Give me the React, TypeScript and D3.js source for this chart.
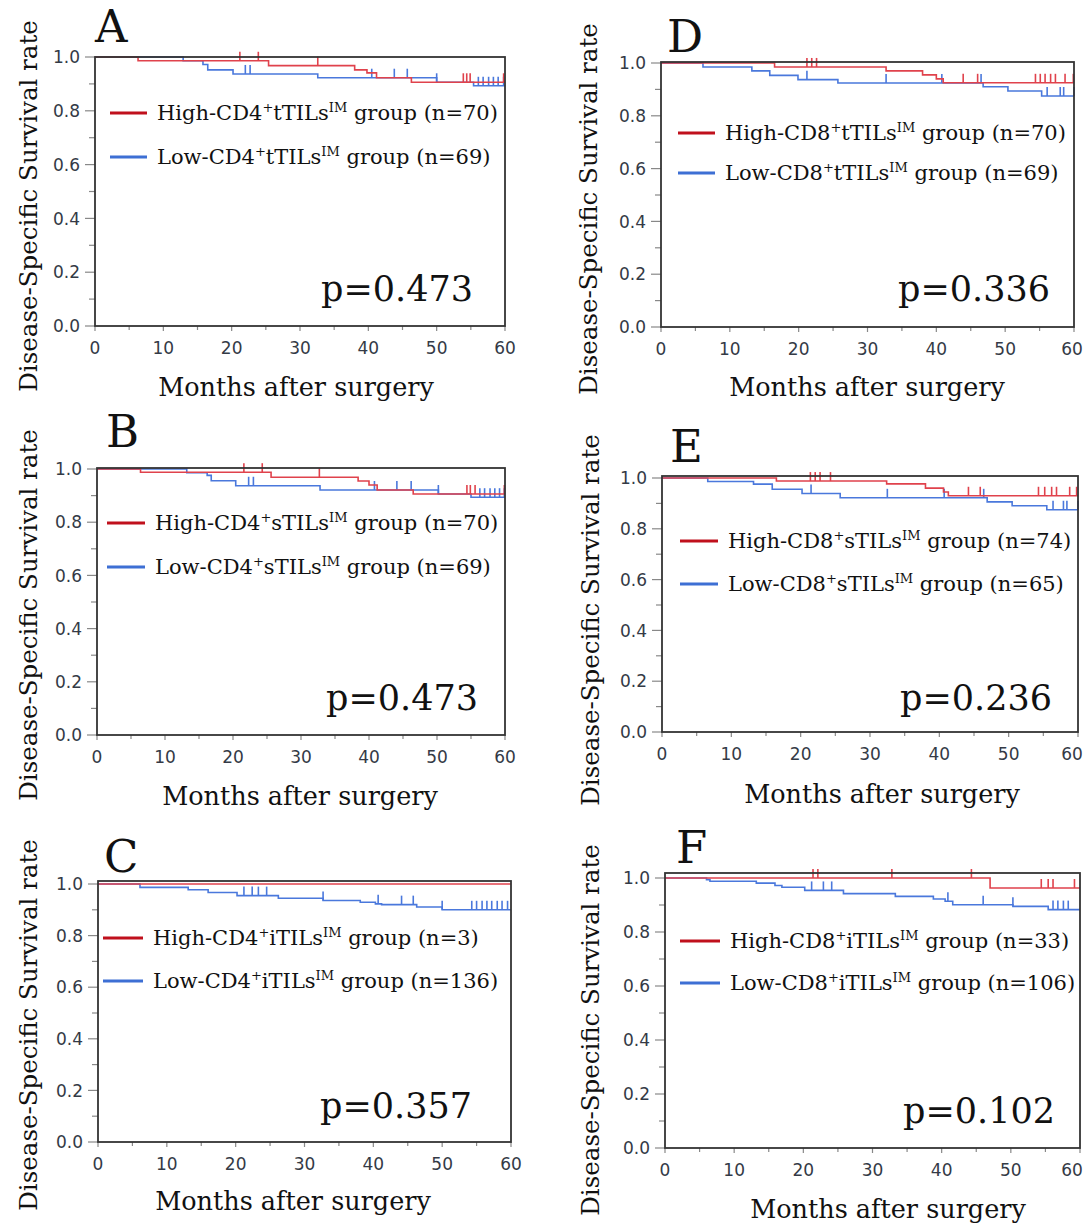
import React from 'react';
import * as d3 from 'd3';

// axis ticks
const xTicks = [0, 10, 20, 30, 40, 50, 60];
const xMinor = [5, 15, 25, 35, 45, 55];
const yTicks = [0, 0.2, 0.4, 0.6, 0.8, 1.0];
const yMinor = [0.1, 0.3, 0.5, 0.7, 0.9];

// Kaplan-Meier steps: [month, survival after the drop]
const aHigh = [[0, 1], [6.3, 0.986], [25.4, 0.968], [38, 0.952], [39.8, 0.941], [41.2, 0.923], [46.3, 0.906]];
const aLow = [[0, 1], [12.9, 0.986], [15.8, 0.972], [16.5, 0.952], [20.2, 0.937], [32.6, 0.923], [50, 0.906], [55.4, 0.893]];
const aHighCens = [21.2, 23.9, 32.6, 53.9, 54.4, 54.9, 59.8];
const aLowCens = [22.0, 22.7, 40.5, 43.8, 45.7, 50, 56.1, 56.8, 57.6, 58.3, 59.0, 59.8];

const bHigh = [[0, 1], [6.4, 0.988], [25.6, 0.969], [38.4, 0.955], [40, 0.94], [41.2, 0.921], [46.5, 0.906]];
const bLow = [[0, 1], [13.2, 0.986], [16.2, 0.976], [16.8, 0.956], [20.4, 0.937], [32.8, 0.921], [50.2, 0.906], [55, 0.894]];
const bHighCens = [21.6, 24.3, 32.7, 54.4, 54.9, 55.6, 59.9];
const bLowCens = [22.3, 23.0, 40.8, 44.1, 46.2, 50.2, 56.3, 57.0, 57.8, 58.5, 59.2, 59.9];

const cHigh = [[0, 1]];
const cLow = [[0, 1], [6.1, 0.987], [13.1, 0.978], [16, 0.967], [20.2, 0.955], [26.2, 0.945], [32.7, 0.936], [38.1, 0.929], [40.3, 0.923], [41.2, 0.92], [46.3, 0.911], [50, 0.9]];
const cHighCens: number[] = [];
const cLowCens = [21.2, 22.4, 23.3, 24.5, 32.7, 40.7, 44.1, 45.8, 50, 54.3, 55.0, 55.8, 56.5, 57.2, 58.0, 58.7, 59.5];

const dHigh = [[0, 1], [16.5, 0.985], [32.7, 0.97], [38, 0.955], [40, 0.94], [41, 0.925]];
const dLow = [[0, 1], [6.1, 0.985], [13.2, 0.97], [15.8, 0.953], [19.9, 0.937], [25.7, 0.924], [46.8, 0.91], [50.4, 0.894], [55.3, 0.875]];
const dHighCens = [21.2, 21.9, 22.6, 43.9, 46.0, 54.4, 55.1, 55.8, 56.6, 57.3, 58.7, 59.9];
const dLowCens = [21.2, 32.7, 40.8, 46.5, 56.1, 58.0, 58.5, 60];

const eHigh = [[0, 1], [16.5, 0.988], [32.4, 0.977], [38, 0.96], [40.6, 0.945], [41.3, 0.93]];
const eLow = [[0, 1], [6.6, 0.986], [13.2, 0.976], [15.9, 0.956], [20.2, 0.939], [25.7, 0.922], [46.9, 0.906], [50.5, 0.891], [55.5, 0.875]];
const eHighCens = [21.4, 22.1, 22.8, 24.3, 44.2, 45.9, 54.3, 55.2, 56.2, 56.9, 58.8, 59.8];
const eLowCens = [21.5, 32.5, 40.7, 46.4, 56.4, 57.9, 58.4, 60];

const fHigh = [[0, 1], [47, 0.963]];
const fLow = [[0, 1], [6, 0.994], [6.5, 0.988], [13.2, 0.981], [15.9, 0.972], [16.9, 0.966], [20.2, 0.954], [25.8, 0.942], [33.3, 0.932], [38.8, 0.922], [40.5, 0.914], [41.6, 0.901], [50.3, 0.895], [55.4, 0.883]];
const fHighCens = [21.4, 22.1, 32.8, 44.3, 54.4, 55.4, 56.1, 59.2];
const fLowCens = [21.2, 22.9, 24.1, 40.9, 46.0, 50.3, 56.1, 56.8, 57.6, 58.3];

const pValues = ['0.473', '0.473', '0.357', '0.336', '0.236', '0.102'];

const RED = '#e0424c';
const BLUE = '#4a78dc';
const RED_KEY = '#c0101c';
const BLUE_KEY = '#3d6fd4';

const serif = '"DejaVu Serif", serif';
const sans = '"DejaVu Sans", sans-serif';

const panels = [
  { letter: 'A', high: aHigh, low: aLow, highCens: aHighCens, lowCens: aLowCens, p: pValues[0],
    cd: 'CD4', kind: 't', nHigh: 70, nLow: 69,
    box: { l: 95, r: 505, t: 57, y1: 57, b: 326 }, letterAt: [95, 42], legendY: [113, 157], legendX: [110, 147, 157],
    pAt: [473, 301], yTitle: [28, 206], xTitle: [296, 396] },
  { letter: 'B', high: bHigh, low: bLow, highCens: bHighCens, lowCens: bLowCens, p: pValues[1],
    cd: 'CD4', kind: 's', nHigh: 70, nLow: 69,
    box: { l: 97, r: 505, t: 468, y1: 469, b: 735 }, letterAt: [106, 447], legendY: [523, 567], legendX: [107, 145, 155],
    pAt: [478, 710], yTitle: [28, 615], xTitle: [300, 805] },
  { letter: 'C', high: cHigh, low: cLow, highCens: cHighCens, lowCens: cLowCens, p: pValues[2],
    cd: 'CD4', kind: 'i', nHigh: 3, nLow: 136,
    box: { l: 98, r: 511, t: 881, y1: 884, b: 1142 }, letterAt: [104, 872], legendY: [938, 981], legendX: [103, 143, 153],
    pAt: [472, 1118], yTitle: [28, 1025], xTitle: [293, 1210] },
  { letter: 'D', high: dHigh, low: dLow, highCens: dHighCens, lowCens: dLowCens, p: pValues[3],
    cd: 'CD8', kind: 't', nHigh: 70, nLow: 69,
    box: { l: 661, r: 1074, t: 62, y1: 63, b: 327 }, letterAt: [667, 52], legendY: [133, 173], legendX: [678, 715, 725],
    pAt: [1050, 301], yTitle: [588, 209], xTitle: [867, 396] },
  { letter: 'E', high: eHigh, low: eLow, highCens: eHighCens, lowCens: eLowCens, p: pValues[4],
    cd: 'CD8', kind: 's', nHigh: 74, nLow: 65,
    box: { l: 662, r: 1078, t: 476, y1: 478, b: 732 }, letterAt: [670, 462], legendY: [541, 584], legendX: [680, 718, 728],
    pAt: [1052, 710], yTitle: [590, 620], xTitle: [882, 803] },
  { letter: 'F', high: fHigh, low: fLow, highCens: fHighCens, lowCens: fLowCens, p: pValues[5],
    cd: 'CD8', kind: 'i', nHigh: 33, nLow: 106,
    box: { l: 665, r: 1080, t: 873, y1: 878, b: 1148 }, letterAt: [676, 863], legendY: [941, 983], legendX: [680, 720, 730],
    pAt: [1055, 1123], yTitle: [590, 1030], xTitle: [888, 1218] },
];

const survAt = (steps: number[][], t: number) => {
  let s = 1;
  for (const [tt, v] of steps) if (tt <= t) s = v;
  return s;
};

const LegendLabel = ({ x, y, grp, cd, kind, n }) => (
  <text x={x} y={y} fontFamily={serif} fontSize={21} fill="#111">
    {grp}-{cd}
    <tspan fontSize={13} dy={-8}>+</tspan>
    <tspan dy={8}>{kind}TILs</tspan>
    <tspan fontSize={13} dy={-8}>IM</tspan>
    <tspan dy={8}>{` group (n=${n})`}</tspan>
  </text>
);

const Panel = ({ cfg }) => {
  const { box } = cfg;
  const x = d3.scaleLinear().domain([0, 60]).range([box.l, box.r]);
  const y = d3.scaleLinear().domain([0, 1]).range([box.b, box.y1]);
  const line = d3.line<number[]>().x(d => x(d[0])).y(d => y(d[1])).curve(d3.curveStepAfter);
  const full = (steps: number[][]) => [...steps, [60, steps[steps.length - 1][1]]];

  const curve = (steps, cens, color) => (
    <g>
      <path d={line(full(steps)) || ''} fill="none" stroke={color} strokeWidth={1.6} />
      {cens.map((t, i) => (
        <line key={i} x1={x(t)} x2={x(t)} y1={y(survAt(steps, t))} y2={y(survAt(steps, t)) - 9}
          stroke={color} strokeWidth={1.6} />
      ))}
    </g>
  );

  return (
    <g>
      <text x={cfg.letterAt[0]} y={cfg.letterAt[1]} fontFamily={serif} fontSize={45} fill="#111">{cfg.letter}</text>
      {/* ticks */}
      {yTicks.map(t => (
        <g key={'y' + t}>
          <line x1={box.l - 10} x2={box.l} y1={y(t)} y2={y(t)} stroke="#888" strokeWidth={1.2} />
          <text x={box.l - 15} y={y(t)} dy="0.36em" textAnchor="end" fontFamily={sans} fontSize={17}
            fill="#343a46">{d3.format('.1f')(t)}</text>
        </g>
      ))}
      {yMinor.map(t => (
        <line key={'ym' + t} x1={box.l - 6} x2={box.l} y1={y(t)} y2={y(t)} stroke="#888" strokeWidth={1.2} />
      ))}
      {xTicks.map(t => (
        <g key={'x' + t}>
          <line x1={x(t)} x2={x(t)} y1={box.b} y2={box.b + 5} stroke="#888" strokeWidth={1.2} />
          <text x={Math.min(x(t), 1072)} y={box.b + 22} dy="0.36em" textAnchor="middle" fontFamily={sans} fontSize={17}
            fill="#343a46">{t}</text>
        </g>
      ))}
      {xMinor.map(t => (
        <line key={'xm' + t} x1={x(t)} x2={x(t)} y1={box.b} y2={box.b + 4} stroke="#888" strokeWidth={1.2} />
      ))}
      {curve(cfg.low, cfg.lowCens, BLUE)}
      {curve(cfg.high, cfg.highCens, RED)}
      <rect x={box.l} y={box.t} width={box.r - box.l} height={box.b - box.t} fill="none" stroke="#333" strokeWidth={1.8} />
      {/* legend */}
      <line x1={cfg.legendX[0]} x2={cfg.legendX[1]} y1={cfg.legendY[0]} y2={cfg.legendY[0]} stroke={RED_KEY} strokeWidth={3} />
      <LegendLabel x={cfg.legendX[2]} y={cfg.legendY[0] + 7} grp="High" cd={cfg.cd} kind={cfg.kind} n={cfg.nHigh} />
      <line x1={cfg.legendX[0]} x2={cfg.legendX[1]} y1={cfg.legendY[1]} y2={cfg.legendY[1]} stroke={BLUE_KEY} strokeWidth={3} />
      <LegendLabel x={cfg.legendX[2]} y={cfg.legendY[1] + 7} grp="Low" cd={cfg.cd} kind={cfg.kind} n={cfg.nLow} />
      <text x={cfg.pAt[0]} y={cfg.pAt[1]} textAnchor="end" fontFamily={serif} fontSize={35} fill="#111">p={cfg.p}</text>
      <text transform={`translate(${cfg.yTitle[0]},${cfg.yTitle[1]}) rotate(-90)`} textAnchor="middle" dy="0.35em"
        fontFamily={serif} fontSize={24.5} fill="#111">Disease-Specific Survival rate</text>
      <text x={cfg.xTitle[0]} y={cfg.xTitle[1]} textAnchor="middle" fontFamily={serif} fontSize={25.5}
        fill="#111">Months after surgery</text>
    </g>
  );
};

const App = () => (
  <svg width={1086} height={1224} style={{ position: 'absolute', left: 0, top: 0, background: '#fff' }}>
    <rect width={1086} height={1224} fill="#fff" />
    {panels.map(p => <Panel key={p.letter} cfg={p} />)}
  </svg>
);

export default App;
